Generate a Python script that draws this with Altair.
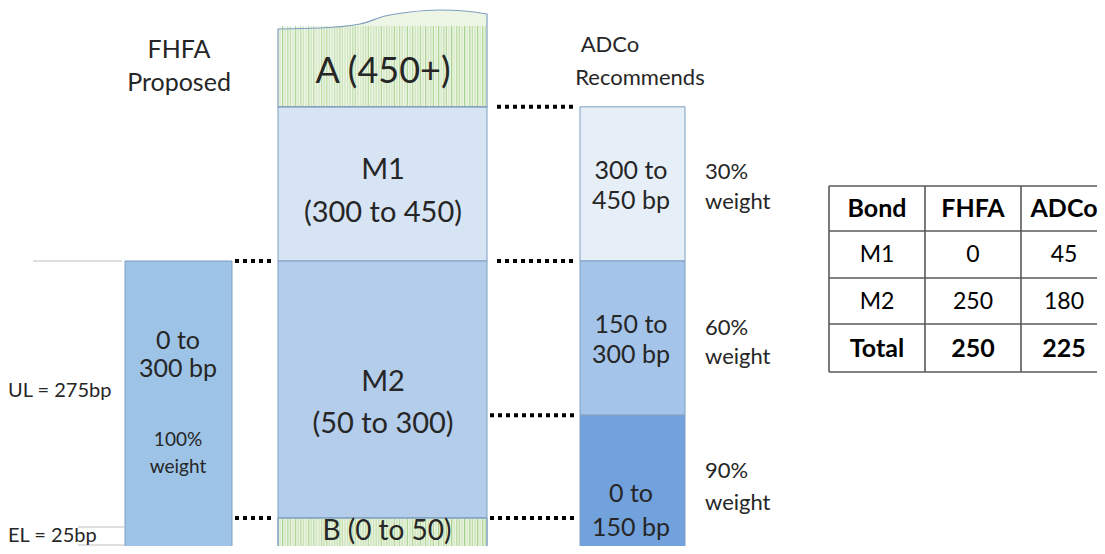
import altair as alt
import pandas as pd

# ---------------- data ----------------
main_labels = ["M1", "M2", "B"]
main_lo = [300, 50, 0]
main_hi = [450, 300, 50]
a_floor = 450            # A band: 450+

adco_lo = [300, 150, 0]
adco_hi = [450, 300, 150]
adco_text1 = ["300 to", "150 to", "0 to"]
adco_text2 = ["450 bp", "300 bp", "150 bp"]
adco_weight = ["30%", "60%", "90%"]

fhfa_lo = [0]
fhfa_hi = [300]

connector_left = [300, 50]
connector_right = [450, 300, 150, 50]

table_header = ["Bond", "FHFA", "ADCo"]
table_body = [["M1", "0", "45"], ["M2", "250", "180"]]
table_total = ["Total", "250", "225"]

# ---------------- layout / style ----------------
W, H = 1089, 538
xs = alt.Scale(domain=[8, 8 + W], range=[0, W])
ys = alt.Scale(domain=[8, 8 + H], range=[0, H])
BP = "518 - ({v} - 50) * 1.028"   # bp -> page pixel
FONT = "Lato"
TXT = "#262626"
EDGE = "#7f9fbf"

MAIN_X = (278, 487)
ADCO_X = (580, 685)
FHFA_X = (125, 232)

main_colors = ["#d6e4f3", "#b3cdea", "#e9f3df"]
adco_colors = ["#e6eef8", "#a4c4ea", "#72a2dc"]
fhfa_color = "#9dc3e6"

rects = []
for lab, lo, hi, c in zip(main_labels, main_lo, main_hi, main_colors):
    rects.append(dict(x=MAIN_X[0], x2=MAIN_X[1], lo=lo, hi=hi, color=c))
for lo, hi, c in zip(adco_lo, adco_hi, adco_colors):
    rects.append(dict(x=ADCO_X[0], x2=ADCO_X[1], lo=lo, hi=hi, color=c))
for lo, hi in zip(fhfa_lo, fhfa_hi):
    rects.append(dict(x=FHFA_X[0], x2=FHFA_X[1], lo=lo, hi=hi, color=fhfa_color))
rect_df = pd.DataFrame(rects)

X = lambda f: alt.X(f, scale=xs, axis=None)
Y = lambda f: alt.Y(f, scale=ys, axis=None)

bars = alt.Chart(rect_df).mark_rect(stroke=EDGE, strokeWidth=1, clip=True).transform_calculate(
    ylo=BP.format(v="datum.lo"), yhi=BP.format(v="datum.hi")
).encode(
    x=X("x:Q"), x2="x2:Q", y=Y("ylo:Q"), y2="yhi:Q",
    color=alt.Color("color:N", scale=None),
)

# wavy top of band A
wave_x = [278, 320, 360, 385, 410, 440, 465, 487]
wave_top = [29, 28, 24, 16, 12, 10, 11, 14]
wave_df = pd.DataFrame({"x": wave_x, "top": wave_top, "floor": a_floor})
wave_base = alt.Chart(wave_df).transform_calculate(bottom=BP.format(v="datum.floor"))
wave_fill = wave_base.mark_area(interpolate="monotone", color="#edf5e5").encode(
    x=X("x:Q"), y=Y("top:Q"), y2="bottom:Q")
wave_edge = wave_base.mark_area(interpolate="monotone", fillOpacity=0, stroke=EDGE, strokeWidth=1.2).encode(
    x=X("x:Q"), y=Y("top:Q"), y2="bottom:Q")

def stripes(y_top, y_bot):
    return alt.Chart(alt.sequence(MAIN_X[0] + 2, MAIN_X[1] - 1, 2.6, as_="sx")).transform_calculate(
        yt=str(y_top), yb=str(y_bot),
        op="0.25 + 0.65 * abs(sin(datum.sx * 1.93) * cos(datum.sx * 0.71))",
    ).mark_rule(color="#9ccb7e", strokeWidth=1.2, clip=True).encode(
        x=X("sx:Q"), y=Y("yt:Q"), y2="yb:Q", opacity=alt.Opacity("op:Q", scale=None))

stripes_a = stripes(26, 106)
stripes_b = stripes(519, 560)
b_edge = alt.Chart(pd.DataFrame([dict(x=MAIN_X[0], x2=MAIN_X[1], lo=0, hi=50)])).transform_calculate(
    ylo=BP.format(v="datum.lo"), yhi=BP.format(v="datum.hi")
).mark_rect(fillOpacity=0, stroke=EDGE, strokeWidth=1, clip=True).encode(
    x=X("x:Q"), x2="x2:Q", y=Y("ylo:Q"), y2="yhi:Q")

# dotted connectors
conn = []
for v in connector_left:
    conn.append(dict(x=FHFA_X[1] + 3, x2=MAIN_X[0] - 3, v=v))
for v in connector_right:
    conn.append(dict(x=MAIN_X[1] + (10 if v >= 300 else 3), x2=ADCO_X[0] - 4, v=v))
conn_df = pd.DataFrame(conn)
connectors = alt.Chart(conn_df).transform_calculate(y=BP.format(v="datum.v")).mark_rule(
    color="black", strokeWidth=4, strokeDash=[4, 4]
).encode(x=X("x:Q"), x2="x2:Q", y=Y("y:Q"))

# thin grey marker lines (UL / EL)
grey_df = pd.DataFrame([
    dict(x=33, x2=122, y=261),
    dict(x=78, x2=125, y=527),
    dict(x=78, x2=125, y=545),
])
grey = alt.Chart(grey_df).mark_rule(color="#bfbfbf", strokeWidth=1).encode(
    x=X("x:Q"), x2="x2:Q", y=Y("y:Q"))

# text labels
texts_c = [
    (179, 50, "FHFA", 25), (179, 83, "Proposed", 25),
    (610, 45, "ADCo", 22), (640, 78, "Recommends", 22),
    (383, 72, "A (450+)", 36),
    (383, 170, main_labels[0], 29), (383, 213, "(300 to 450)", 29),
    (383, 382, main_labels[1], 29), (383, 424, "(50 to 300)", 29),
    (387, 532, "B (0 to 50)", 28),
    (178, 341, "0 to", 25), (178, 369, "300 bp", 25),
    (178, 440, "100%", 19), (178, 467, "weight", 19),
]
adco_y = [(171, 201), (325, 355), (494, 528)]
for (y1, y2), t1, t2 in zip(adco_y, adco_text1, adco_text2):
    texts_c += [(631, y1, t1, 25), (631, y2, t2, 25)]
tc_df = pd.DataFrame(texts_c, columns=["x", "y", "text", "size"])
text_center = alt.Chart(tc_df).mark_text(font=FONT, color=TXT, align="center", baseline="middle").encode(
    x=X("x:Q"), y=Y("y:Q"), text="text:N", size=alt.Size("size:Q", scale=None))

texts_l = [(8, 391, "UL = 275bp", 20), (8, 536, "EL = 25bp", 20)]
weight_y = [(172, 202), (328, 357), (471, 503)]
for (y1, y2), w in zip(weight_y, adco_weight):
    texts_l += [(705, y1, w, 22), (705, y2, "weight", 22)]
tl_df = pd.DataFrame(texts_l, columns=["x", "y", "text", "size"])
text_left = alt.Chart(tl_df).mark_text(font=FONT, color=TXT, align="left", baseline="middle").encode(
    x=X("x:Q"), y=Y("y:Q"), text="text:N", size=alt.Size("size:Q", scale=None))

# table
col_x = [877, 973, 1064]
row_y = [209, 255, 302, 349]
tab_norm, tab_bold = [], []
for cx, t in zip(col_x, table_header):
    tab_bold.append(dict(x=cx, y=row_y[0], text=t))
for ry, row in zip(row_y[1:3], table_body):
    for cx, t in zip(col_x, row):
        tab_norm.append(dict(x=cx, y=ry, text=t))
for cx, t in zip(col_x, table_total):
    tab_bold.append(dict(x=cx, y=row_y[3], text=t))
table_norm = alt.Chart(pd.DataFrame(tab_norm)).mark_text(
    font=FONT, fontSize=23, color="black", baseline="middle").encode(
    x=X("x:Q"), y=Y("y:Q"), text="text:N")
table_bold = alt.Chart(pd.DataFrame(tab_bold)).mark_text(
    font=FONT, fontSize=25, fontWeight="bold", color="black", baseline="middle").encode(
    x=X("x:Q"), y=Y("y:Q"), text="text:N")

hlines = [dict(x=829, x2=1117, y=y) for y in [186, 231, 278, 324, 372]]
vlines = [dict(x=x, y=186, y2=372) for x in [829, 925, 1021, 1117]]
table_h = alt.Chart(pd.DataFrame(hlines)).mark_rule(color="#595959", strokeWidth=1.6, clip=True).encode(
    x=X("x:Q"), x2="x2:Q", y=Y("y:Q"))
table_v = alt.Chart(pd.DataFrame(vlines)).mark_rule(color="#595959", strokeWidth=1.6, clip=True).encode(
    x=X("x:Q"), y=Y("y:Q"), y2="y2:Q")

chart = alt.layer(
    wave_fill, bars, stripes_a, stripes_b, wave_edge, b_edge, connectors, grey,
    text_center, text_left, table_h, table_v, table_norm, table_bold,
).properties(
    width=W, height=H, padding=0, background="white",
    autosize=alt.AutoSizeParams(type="none"),
).configure_view(stroke=None)

chart.save("out.html", embed_options={"renderer": "svg", "actions": False})
